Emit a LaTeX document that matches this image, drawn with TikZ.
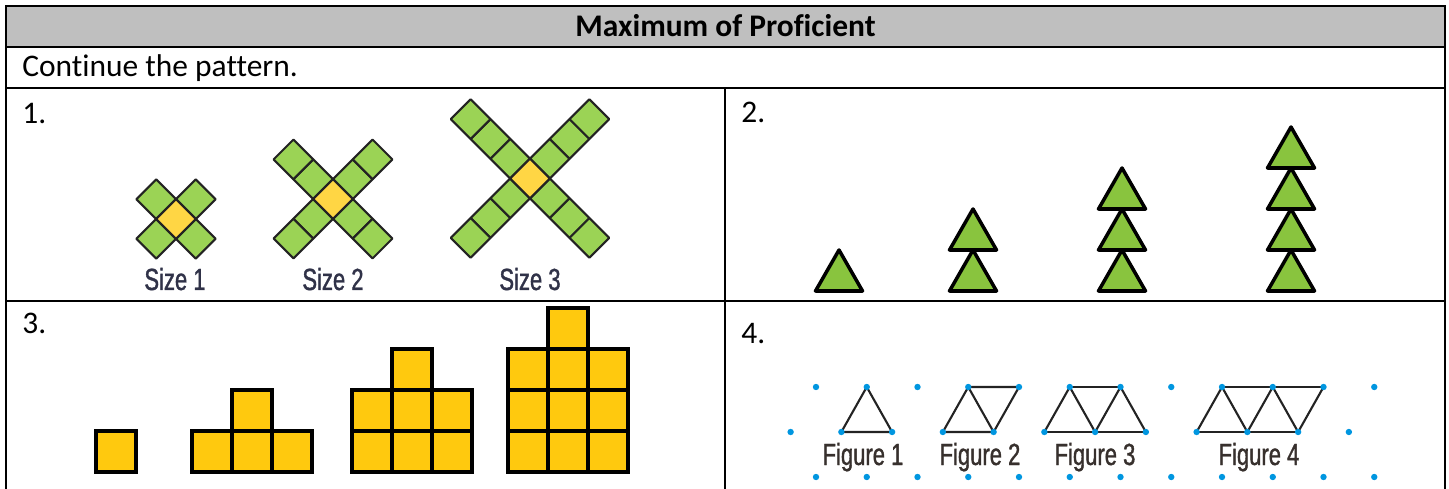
\documentclass[tikz,border=0pt]{standalone}
\usepackage{fontspec}
\setmainfont{Carlito}[Ligatures=NoCommon]
\newfontfamily\condfont[FakeStretch=0.72, FakeBold=1.2]{Liberation Sans}
\usepackage{tikz}

\definecolor{hdrgray}{RGB}{191,191,191}
\definecolor{xgreen}{RGB}{155,211,85}
\definecolor{xyellow}{RGB}{255,214,68}
\definecolor{xline}{RGB}{35,35,35}
\definecolor{tgreen}{RGB}{137,196,62}
\definecolor{sqyellow}{RGB}{255,201,14}
\definecolor{dotblue}{RGB}{0,150,224}
\definecolor{lblslate}{RGB}{48,50,72}
\definecolor{lblbrown}{RGB}{55,48,45}

\tikzset{
  rule/.style={line width=1.4pt, black},
  txt/.style={inner sep=0pt, font=\fontsize{17.9pt}{20pt}\selectfont},
  lbl/.style={inner sep=0pt, font=\condfont\fontsize{17.4pt}{20pt}\selectfont},
  xarm/.style={fill=xgreen, draw=xline, line width=1.2pt, line join=round},
  xmid/.style={fill=xyellow, draw=xline, line width=1.2pt, line join=round},
  tri/.style={fill=tgreen, draw=black, line width=2pt, line join=round},
  sq/.style={fill=sqyellow, draw=black, line width=2.7pt},
  edge/.style={draw=xline, line width=1.2pt, line cap=round},
  dot/.style={fill=dotblue}
}

\begin{document}
\begin{tikzpicture}[x=0.02cm, y=-0.02cm]
  \useasboundingbox (0,0) rectangle (1449,489);
  % table
  \fill[hdrgray] (6,6) rectangle (1445,47);
  \draw[rule] (6,489) -- (6,6) -- (1445,6) -- (1445,489);
  \draw[rule] (6,47) -- (1445,47);
  \draw[rule] (6,88) -- (1445,88);
  \draw[rule] (6,301) -- (1445,301);
  \draw[rule] (725,88) -- (725,489);
  \node[txt, anchor=base] (title) at (725.5,37) {\bfseries Maximum of Proficient};
  \node[txt, anchor=base west] (instr) at (22,77) {Continue the pattern.};
  \node[txt, anchor=base west] (num1) at (22,124) {1.};
  \node[txt, anchor=base west] (num2) at (741,123) {2.};
  \node[txt, anchor=base west] (num3) at (22,334) {3.};
  \node[txt, anchor=base west] (num4) at (741,343) {4.};

  % 1. crosses
  \begin{scope}[shift={(176,219)}, rotate=45]
    \foreach \k in {1} {
      \draw[xarm] ({28*\k-14},-14) rectangle ({28*\k+14},14);
      \draw[xarm] ({-28*\k-14},-14) rectangle ({-28*\k+14},14);
      \draw[xarm] (-14,{28*\k-14}) rectangle (14,{28*\k+14});
      \draw[xarm] (-14,{-28*\k-14}) rectangle (14,{-28*\k+14});
    }
    \draw[xmid] (-14,-14) rectangle (14,14);
  \end{scope}
  \begin{scope}[shift={(333,199)}, rotate=45]
    \foreach \k in {1,2} {
      \draw[xarm] ({28*\k-14},-14) rectangle ({28*\k+14},14);
      \draw[xarm] ({-28*\k-14},-14) rectangle ({-28*\k+14},14);
      \draw[xarm] (-14,{28*\k-14}) rectangle (14,{28*\k+14});
      \draw[xarm] (-14,{-28*\k-14}) rectangle (14,{-28*\k+14});
    }
    \draw[xmid] (-14,-14) rectangle (14,14);
  \end{scope}
  \begin{scope}[shift={(530,178.5)}, rotate=45]
    \foreach \k in {1,2,3} {
      \draw[xarm] ({28*\k-14},-14) rectangle ({28*\k+14},14);
      \draw[xarm] ({-28*\k-14},-14) rectangle ({-28*\k+14},14);
      \draw[xarm] (-14,{28*\k-14}) rectangle (14,{28*\k+14});
      \draw[xarm] (-14,{-28*\k-14}) rectangle (14,{-28*\k+14});
    }
    \draw[xmid] (-14,-14) rectangle (14,14);
  \end{scope}
  \node[lbl, text=lblslate, anchor=base] (size1) at (175,290) {Size 1};
  \node[lbl, text=lblslate, anchor=base] (size2) at (333,290) {Size 2};
  \node[lbl, text=lblslate, anchor=base] (size3) at (530,290) {Size 3};

  % 2. triangle stacks
  \filldraw[tri] (815.5,291) -- (839,250) -- (862.5,291) -- cycle;
  \foreach \b in {291,250}
    \filldraw[tri] (949.5,\b) -- (973,\b-41) -- (996.5,\b) -- cycle;
  \foreach \b in {291,250,209}
    \filldraw[tri] (1098.5,\b) -- (1122,\b-41) -- (1145.5,\b) -- cycle;
  \foreach \b in {291,250,209,168}
    \filldraw[tri] (1267.5,\b) -- (1291,\b-41) -- (1314.5,\b) -- cycle;

  % 3. square towers
  \draw[sq] (96,431) rectangle (136,472);
  \foreach \x in {192,232,272}
    \draw[sq] (\x,431) rectangle ++(40,41);
  \draw[sq] (232,390) rectangle (272,431);
  \foreach \x in {352,392,432}
    \foreach \y in {431,390}
      \draw[sq] (\x,\y) rectangle ++(40,41);
  \draw[sq] (392,349) rectangle (432,390);
  \foreach \x in {508,548,588}
    \foreach \y in {431,390,349}
      \draw[sq] (\x,\y) rectangle ++(40,41);
  \draw[sq] (548,308) rectangle (588,349);

  % 4. dot lattice
  \foreach \k in {0,...,11} {
    \coordinate (t\k) at ({816+50.75*\k},387);
    \coordinate (m\k) at ({790.6+50.75*\k},432);
    \coordinate (b\k) at ({816+50.75*\k},477);
  }
  \draw[edge] (m1) -- (t1) -- (m2) -- cycle;
  \draw[edge] (m3) -- (t3) -- (t4) -- (m4) -- cycle;
  \draw[edge] (t3) -- (m4);
  \draw[edge] (m5) -- (m7);
  \draw[edge] (t5) -- (t6);
  \draw[edge] (m5) -- (t5) -- (m6) -- (t6) -- (m7);
  \draw[edge] (m8) -- (m10);
  \draw[edge] (t8) -- (t10);
  \draw[edge] (m8) -- (t8) -- (m9) -- (t9) -- (m10) -- (t10);
  \foreach \k in {0,...,11} {
    \fill[dot] (t\k) circle (3.2);
    \fill[dot] (m\k) circle (3.2);
    \fill[dot] (b\k) circle (3.2);
  }
  \node[lbl, text=lblbrown, anchor=base] (fig1) at (863,465) {Figure 1};
  \node[lbl, text=lblbrown, anchor=base] (fig2) at (980,465) {Figure 2};
  \node[lbl, text=lblbrown, anchor=base] (fig3) at (1095,465) {Figure 3};
  \node[lbl, text=lblbrown, anchor=base] (fig4) at (1259,465) {Figure 4};
\end{tikzpicture}
\end{document}
